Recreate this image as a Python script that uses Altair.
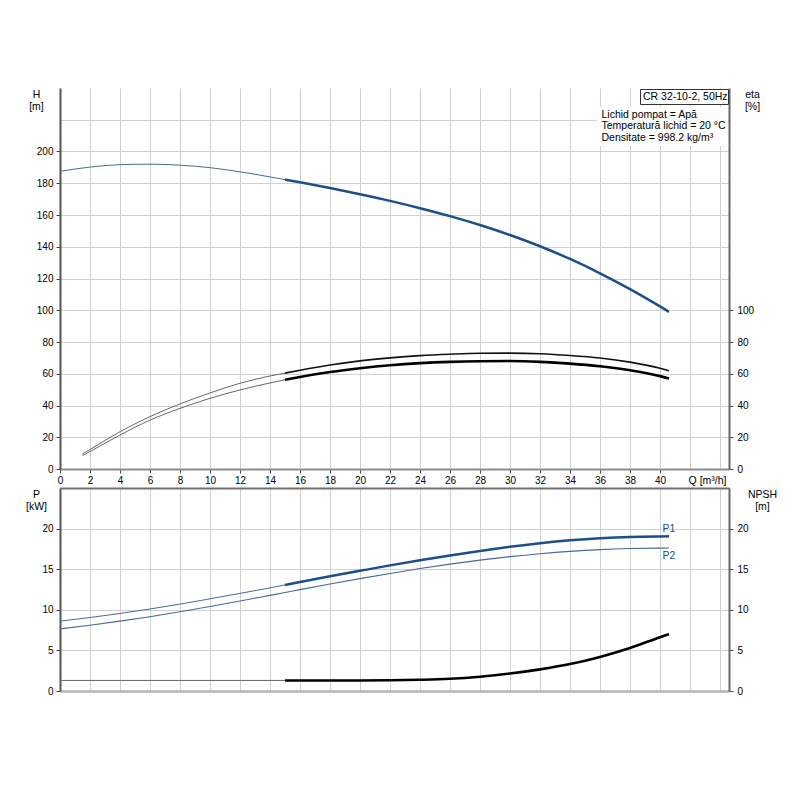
import altair as alt
import pandas as pd

# ---------------- data ----------------
q_h = [0, 2, 4, 6, 8, 10, 12, 14, 15, 16, 18, 20, 22, 24, 26, 28, 30, 32, 34, 36, 38, 40, 40.6]
h_vals = [187.5, 190.2, 191.7, 192.0, 191.4, 189.8, 187.2, 184.0, 182.3, 180.6, 177.0, 173.1,
          168.9, 164.3, 159.3, 153.7, 147.4, 140.3, 132.3, 123.3, 113.3, 102.4, 99.0]

q_eta = [1.5, 2, 4, 6, 8, 10, 12, 14, 15, 16, 18, 20, 22, 24, 26, 28, 30, 32, 34, 36, 38, 40, 40.6]
eta_upper = [9.5, 12.3, 23.5, 33.0, 41.0, 47.9, 54.0, 58.6, 60.4, 62.2, 65.5, 68.1, 70.0, 71.4,
             72.3, 72.9, 73.0, 72.6, 71.5, 69.9, 67.3, 63.5, 61.9]
eta_lower = [8.5, 11.0, 21.4, 30.8, 38.2, 44.5, 49.8, 54.2, 56.2, 58.0, 61.1, 63.5, 65.4, 66.7,
             67.5, 67.9, 68.0, 67.5, 66.4, 64.7, 62.2, 58.5, 57.0]

q_p = [0, 2, 4, 6, 8, 10, 12, 14, 15, 16, 18, 20, 22, 24, 26, 28, 30, 32, 34, 36, 38, 40, 40.6]
p1_vals = [8.6, 9.05, 9.55, 10.1, 10.7, 11.35, 12.02, 12.7, 13.06, 13.42, 14.12, 14.8, 15.47,
           16.1, 16.7, 17.25, 17.76, 18.2, 18.56, 18.82, 18.98, 19.04, 19.05]
p2_vals = [7.65, 8.1, 8.6, 9.15, 9.75, 10.4, 11.08, 11.78, 12.13, 12.48, 13.17, 13.84, 14.48,
           15.08, 15.63, 16.12, 16.55, 16.91, 17.2, 17.41, 17.54, 17.6, 17.61]

q_npsh = [0, 15, 16, 18, 20, 22, 24, 26, 28, 30, 32, 34, 36, 38, 40, 40.6]
npsh_vals = [1.3, 1.3, 1.3, 1.3, 1.3, 1.32, 1.38, 1.5, 1.76, 2.15, 2.66, 3.32, 4.2, 5.3, 6.62, 7.0]

x_ticks = list(range(0, 45, 2))
title_box = "CR 32-10-2, 50Hz"
info_lines = ["Lichid pompat = Apă", "Temperatură lichid = 20 °C", "Densitate = 998.2 kg/m³"]
curve_labels = ["P1", "P2"]

SPLIT = 15
FONT = "Liberation Sans"
BLUE = "#1b4f8c"
BLUE_THIN = "#456a9c"


def part(qs, vs, which):
    rows = []
    for q, v in zip(qs, vs):
        if which == "all" or (which == "thin" and q <= SPLIT) or (which == "thick" and q >= SPLIT):
            rows.append({"q": q, "v": v})
    return pd.DataFrame(rows)


W = 669
H_TOP = 381
H_BOT = 203

x_scale = alt.Scale(domain=[0, 44.6], nice=False, zero=False)
y_top_scale = alt.Scale(domain=[0, 240], nice=False)
y_bot_scale = alt.Scale(domain=[0, 25], nice=False)


def line(df, color, width, x_enc, y_enc):
    return alt.Chart(df).mark_line(interpolate="monotone", color=color,
                                   strokeWidth=width).encode(x=x_enc, y=y_enc)


# ---------------- top panel ----------------
x_top = alt.X("q:Q", scale=x_scale, axis=alt.Axis(
    values=x_ticks, labelExpr="datum.value <= 40 ? datum.label : ''",
    tickOpacity={"condition": {"test": "datum.value > 40", "value": 0}, "value": 1},
    title="Q [m³/h]", titleX=647, titleY=11, titleAlign="center", titleBaseline="middle",
    domainColor="#8c8c8c", domainWidth=2, labelPadding=2, labelFlush=False))

y_h_axis = alt.Y("v:Q", scale=y_top_scale, axis=alt.Axis(
    values=list(range(0, 221, 20)), labelExpr="datum.value <= 200 ? datum.label : ''",
    tickOpacity={"condition": {"test": "datum.value > 200", "value": 0}, "value": 1},
    title=["H", "[m]"], titleAngle=0, titleX=-24, titleY=1, titleAlign="center",
    titleBaseline="top", titleLineHeight=12, domainColor="#555555", domainWidth=2,
    labelPadding=3))
y_eta_axis = alt.Y("v:Q", scale=y_top_scale, axis=alt.Axis(
    orient="right", values=list(range(0, 101, 20)), grid=False,
    title=["eta", "[%]"], titleAngle=0, titleX=23, titleY=1, titleAlign="center",
    titleBaseline="top", titleLineHeight=12, domainColor="#666666", domainWidth=2,
    labelPadding=4))

h_group = alt.layer(
    line(part(q_h, h_vals, "thin"), BLUE_THIN, 1.0, x_top, y_h_axis),
    line(part(q_h, h_vals, "thick"), BLUE, 2.5, x_top, y_h_axis),
)
eta_group = alt.layer(
    line(part(q_eta, eta_upper, "thin"), "#666666", 1.0, x_top, y_eta_axis),
    line(part(q_eta, eta_upper, "thick"), "#111111", 1.6, x_top, y_eta_axis),
    line(part(q_eta, eta_lower, "thin"), "#666666", 1.0, x_top, y_eta_axis),
    line(part(q_eta, eta_lower, "thick"), "#000000", 2.6, x_top, y_eta_axis),
)

one = pd.DataFrame({"a": [0]})
info_bg = alt.Chart(one).mark_rect(fill="white").encode(
    x=alt.value(537), x2=alt.value(668), y=alt.value(19), y2=alt.value(58))
box = alt.Chart(one).mark_rect(fill="white", stroke="#333333", strokeWidth=1).encode(
    x=alt.value(580.5), x2=alt.value(668.5), y=alt.value(1.5), y2=alt.value(16.5))
box_text = alt.Chart(one).mark_text(align="left", baseline="middle", font=FONT, fontSize=10.5,
                                    color="#000").encode(
    x=alt.value(583), y=alt.value(9), text=alt.value(title_box))
info_layers = []
for i, txt in enumerate(info_lines):
    info_layers.append(alt.Chart(one).mark_text(align="left", baseline="middle", font=FONT,
                                                fontSize=10.5, color="#000").encode(
        x=alt.value(541.5), y=alt.value(26.5 + 11.5 * i), text=alt.value(txt)))

top = alt.layer(h_group, eta_group, info_bg, box, box_text, *info_layers).resolve_axis(
    y="independent").properties(width=W, height=H_TOP)

# ---------------- bottom panel ----------------
x_bot = alt.X("q:Q", scale=x_scale, axis=alt.Axis(
    values=x_ticks, labels=False, ticks=False, title=None,
    domainColor="#b4b4b4", domainWidth=2.5))
x_bot_top = alt.X("q:Q", scale=x_scale, axis=alt.Axis(
    orient="top", labels=False, ticks=False, grid=False, title=None,
    domainColor="#707070", domainWidth=2))

y_p_axis = alt.Y("v:Q", scale=y_bot_scale, axis=alt.Axis(
    values=list(range(0, 26, 5)), labelExpr="datum.value <= 20 ? datum.label : ''",
    tickOpacity={"condition": {"test": "datum.value > 20", "value": 0}, "value": 1},
    title=["P", "[kW]"], titleAngle=0, titleX=-24, titleY=1, titleAlign="center",
    titleBaseline="top", titleLineHeight=12, domainColor="#555555", domainWidth=2,
    labelPadding=3))
y_npsh_axis = alt.Y("v:Q", scale=y_bot_scale, axis=alt.Axis(
    orient="right", values=list(range(0, 21, 5)), grid=False,
    title=["NPSH", "[m]"], titleAngle=0, titleX=33, titleY=1, titleAlign="center",
    titleBaseline="top", titleLineHeight=12, domainColor="#666666", domainWidth=2,
    labelPadding=4))

lab1 = pd.DataFrame({"q": [q_p[-1]], "v": [p1_vals[-1]], "t": [curve_labels[0]]})
lab2 = pd.DataFrame({"q": [q_p[-1]], "v": [p2_vals[-1]], "t": [curve_labels[1]]})
plab1 = alt.Chart(lab1).mark_text(align="center", baseline="middle", font=FONT, fontSize=10.5,
                                  color=BLUE, dy=-7).encode(x=x_bot, y=y_p_axis, text="t:N")
plab2 = alt.Chart(lab2).mark_text(align="center", baseline="middle", font=FONT, fontSize=10.5,
                                  color=BLUE, dy=8).encode(x=x_bot, y=y_p_axis, text="t:N")

p_group = alt.layer(
    line(part(q_p, p1_vals, "thin"), BLUE_THIN, 1.0, x_bot, y_p_axis),
    line(part(q_p, p1_vals, "thick"), BLUE, 2.5, x_bot, y_p_axis),
    line(part(q_p, p2_vals, "all"), BLUE_THIN, 1.1, x_bot, y_p_axis),
    plab1, plab2,
)
npsh_group = alt.layer(
    line(part(q_npsh, npsh_vals, "thin"), "#666666", 1.0, x_bot_top, y_npsh_axis),
    line(part(q_npsh, npsh_vals, "thick"), "#000000", 2.6, x_bot_top, y_npsh_axis),
)

bottom = alt.layer(p_group, npsh_group).resolve_axis(
    x="independent", y="independent").properties(width=W, height=H_BOT)

chart = alt.vconcat(top, bottom, spacing=2).properties(
    padding={"left": 17, "top": 80, "right": 5, "bottom": 5}
).configure_view(stroke=None).configure_axis(
    labelFont=FONT, labelFontSize=10, labelColor="#000000",
    titleFont=FONT, titleFontSize=10.5, titleFontWeight="normal", titleColor="#000000",
    tickColor="#444444", tickSize=4, gridColor="#d0d0d0", gridWidth=1
)

chart.save("out.html", embed_options={"renderer": "svg", "actions": False})
